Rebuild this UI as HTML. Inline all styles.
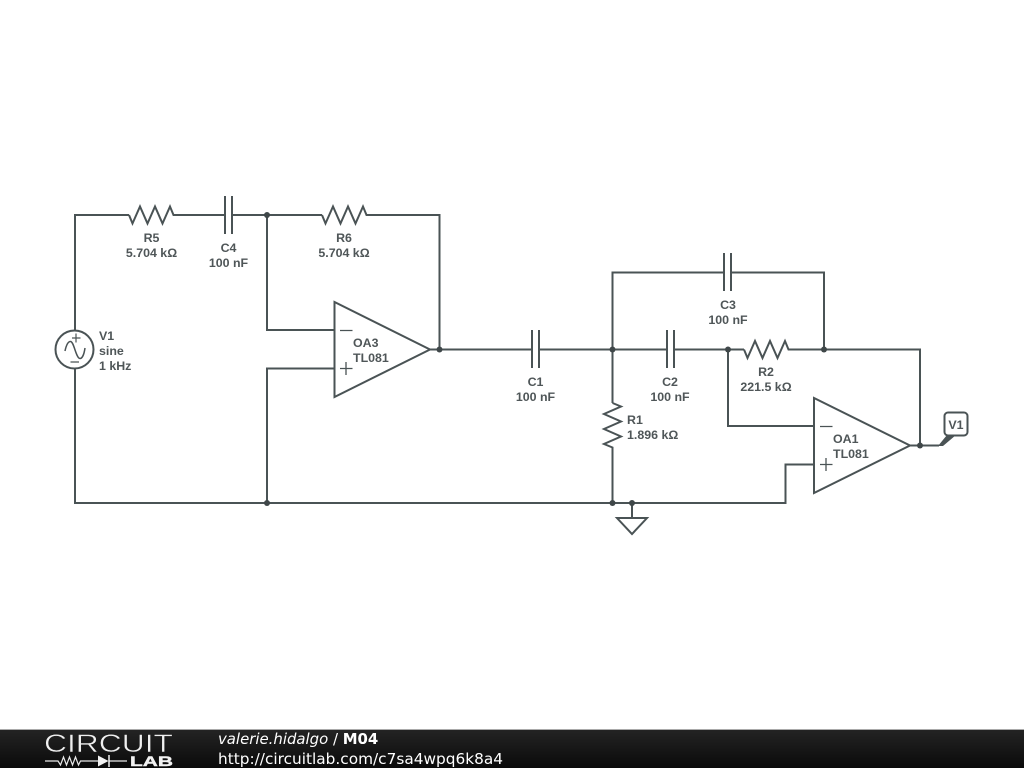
<!DOCTYPE html>
<html><head><meta charset="utf-8"><style>
html,body{margin:0;padding:0;background:#fff;width:1024px;height:768px;overflow:hidden}
svg{display:block}
.w{fill:none;stroke:#4a5355;stroke-width:2;stroke-linejoin:miter}
.t{font-family:"Liberation Sans",sans-serif;font-size:12.4px;font-weight:700;fill:#4f5658}
.m{text-anchor:middle}
</style></head><body>
<svg width="1024" height="768" viewBox="0 0 1024 768" xmlns="http://www.w3.org/2000/svg">
<defs><linearGradient id="g" x1="0" y1="0" x2="0" y2="1"><stop offset="0" stop-color="#242424"/><stop offset="1" stop-color="#0a0a0a"/></linearGradient></defs>
<g class="w">
<!-- left loop -->
<path d="M75 330V215H129"/>
<path d="M129 215l3.500 8.500 7.500-17 7.500 17 7.500-17 7.500 17 7.500-17 3.500 8.500H225"/>
<path d="M225 196V234M232 196V234"/>
<path d="M232 215H322"/>
<path d="M322 215l3.500 8.500 7.500-17 7.500 17 7.500-17 7.500 17 7.500-17 3.500 8.500H439.500V349.500"/>
<path d="M267 215V330H334.500"/>
<path d="M334.500 368.500H267V503"/>
<path d="M75 369V503H785.500V464.500H814"/>
<!-- source -->
<circle cx="74.500" cy="349.500" r="19"/>
<path d="M65 351C66.500 344 68.500 341.500 70.500 341.500C74 341.500 76 358.500 80 358.500C82 358.500 84 355 85 348" stroke-width="1.500"/>
<path d="M76 333.500V342.500M72 338H80.500M70.500 362H79" stroke-width="1.200"/>
<!-- OA3 -->
<path d="M334.500 302V397L430 349.500Z"/>
<path d="M340 330.500H352.500M340 368.500H352.500M346 362V375" stroke-width="1.300"/>
<path d="M430 349.500H532"/>
<path d="M532 330V368M539 330V368"/>
<path d="M539 349.500H667"/>
<path d="M667 330V368M674 330V368"/>
<path d="M674 349.500H744"/>
<path d="M744 349.500l3.500 8.500 7.500-17 7.500 17 7.500-17 7.500 17 7.500-17 3.500 8.500H920V445.500"/>
<!-- C3 -->
<path d="M612.500 349.500V272.500H724"/>
<path d="M724 253V291M731 253V291"/>
<path d="M731 272.500H824V349.500"/>
<!-- R1 -->
<path d="M612.500 349.500V403"/>
<path d="M612.500 403l8.500 3.500-17 7.500 17 7.500-17 7.500 17 7.500-17 7.500 8.500 3.500V503"/>
<!-- OA1 -->
<path d="M728 349.500V426H814"/>
<path d="M814 398V493L910 445.500Z"/>
<path d="M820 426.500H832.500M820 464.500H832.500M826 458V471" stroke-width="1.300"/>
<path d="M910 445.500H939"/>
<!-- ground -->
<path d="M632 503V518M617 518H647L632 534Z"/>
<!-- V1 flag -->
<rect x="944.500" y="412.500" width="23" height="23" rx="3.500" ry="3.500" fill="#fff"/>
</g>
<path d="M938 446L947 435H956L943 446Z" fill="#4a5355"/>
<g fill="#3f4749">
<circle cx="267" cy="215" r="3"/><circle cx="439.500" cy="349.500" r="3"/>
<circle cx="612.500" cy="349.500" r="3"/><circle cx="728" cy="349.500" r="3"/>
<circle cx="824" cy="349.500" r="3"/><circle cx="920" cy="445.500" r="3"/>
<circle cx="267" cy="503" r="3"/><circle cx="612.500" cy="503" r="3"/>
<circle cx="632" cy="503" r="3"/>
</g>
<g class="t">
<text class="m" x="151.500" y="242">R5</text><text class="m" x="151.500" y="257">5.704 kΩ</text>
<text class="m" x="228.500" y="252">C4</text><text class="m" x="228.500" y="267">100 nF</text>
<text class="m" x="344" y="242">R6</text><text class="m" x="344" y="257">5.704 kΩ</text>
<text x="99" y="340">V1</text><text x="99" y="355">sine</text><text x="99" y="370">1 kHz</text>
<text x="353" y="347">OA3</text><text x="353" y="362">TL081</text>
<text class="m" x="535.500" y="386">C1</text><text class="m" x="535.500" y="401">100 nF</text>
<text class="m" x="670" y="386">C2</text><text class="m" x="670" y="401">100 nF</text>
<text class="m" x="728" y="309">C3</text><text class="m" x="728" y="324">100 nF</text>
<text class="m" x="766" y="376">R2</text><text class="m" x="766" y="391">221.5 kΩ</text>
<text x="627" y="424">R1</text><text x="627" y="439">1.896 kΩ</text>
<text x="833" y="443">OA1</text><text x="833" y="458">TL081</text>
<text class="m" x="956" y="429">V1</text>
</g>
<!-- footer -->
<rect x="0" y="729" width="1024" height="39" fill="url(#g)"/>
<rect x="0" y="729" width="1024" height="1" fill="#aaa"/>
<text x="44" y="752" font-family="'Liberation Sans',sans-serif" font-size="25" fill="#f0f0f0" stroke="#1c1c1c" stroke-width="0.500" textLength="129" lengthAdjust="spacingAndGlyphs">CIRCUIT</text>
<path d="M45 761H58l2.500 4 3-8 3 8 3-8 3 8 3-8 3 8 2-4H98M109 761H127" fill="none" stroke="#e8e8e8" stroke-width="1.200"/>
<path d="M98 755.500V766.500L108.500 761Z" fill="#f2f2f2"/>
<path d="M109 755V767" stroke="#f2f2f2" stroke-width="1.500"/>
<text x="130" y="766" font-family="'Liberation Sans',sans-serif" font-size="13.500" font-weight="700" fill="#f2f2f2" stroke="#f2f2f2" stroke-width="0.400" textLength="43" lengthAdjust="spacingAndGlyphs">LAB</text>
<text x="218" y="744" font-family="'DejaVu Sans',sans-serif" font-size="14.900" fill="#fff"><tspan font-style="italic">valerie.hidalgo</tspan> / <tspan font-weight="700">M04</tspan></text>
<text x="218" y="764" font-family="'DejaVu Sans',sans-serif" font-size="14.800" fill="#fff" textLength="285" lengthAdjust="spacingAndGlyphs">http://circuitlab.com/c7sa4wpq6k8a4</text>
</svg>
</body></html>
